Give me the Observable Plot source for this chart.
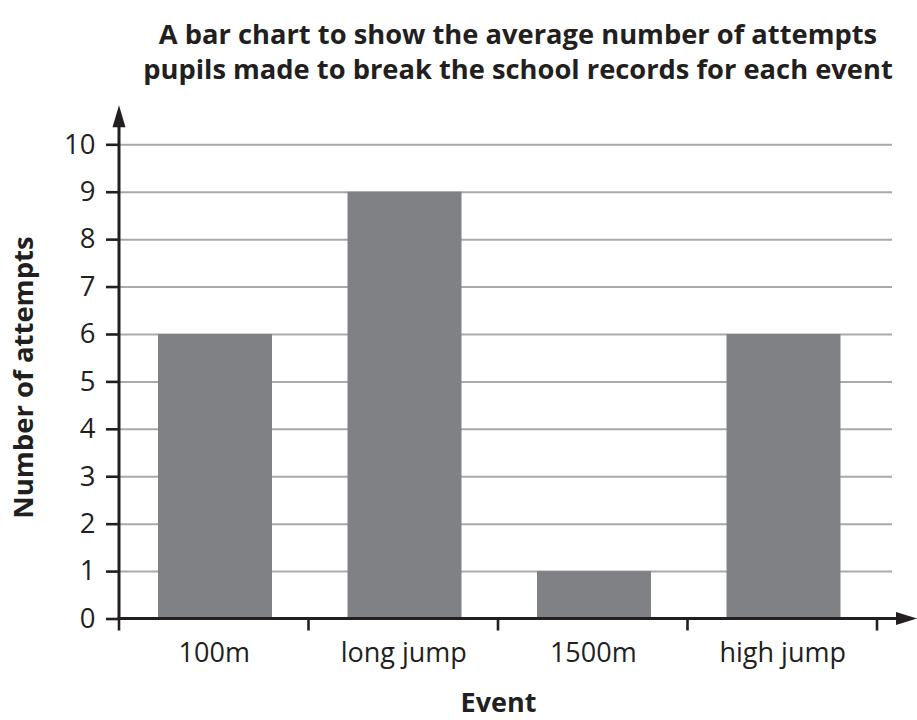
<!DOCTYPE html>
<html><head><meta charset="utf-8">
<script src="https://cdn.jsdelivr.net/npm/d3@7"></script>
<script src="https://cdn.jsdelivr.net/npm/@observablehq/plot@0.6"></script>
<style>
body{margin:0;background:#fff;}
#title{width:917px;height:100px;box-sizing:border-box;padding:16px 0 0 119px;text-align:center;font-family:"Open Sans",sans-serif;font-weight:700;font-size:27.3px;line-height:35px;color:#231f20;white-space:nowrap;}
#chart svg{display:block;}
</style></head><body>
<div id="title">A bar chart to show the average number of attempts<br>pupils made to break the school records for each event</div>
<div id="chart"></div>
<script>
const events = ["100m", "long jump", "1500m", "high jump"];
const attempts = [6, 9, 1, 6];
const yTicks = [0, 1, 2, 3, 4, 5, 6, 7, 8, 9, 10];
const gridTicks = yTicks.filter(d => d > 0);
const xLabel = "Event";
const yLabel = "Number of attempts";

const data = events.map((e, i) => ({event: e, attempts: attempts[i]}));
const ink = "#231f20";

function axesDecor(index, scales, values, dim) {
  const x = scales.x, y = scales.y;
  const bw = x.bandwidth ? x.bandwidth() : (877 - 119) / events.length;
  const x0 = dim.marginLeft;
  const y0 = y(0);
  const yTop = y(d3.max(yTicks));
  const xEnd = x(events[events.length - 1]) + bw;
  const g = d3.create("svg:g");
  const bounds = events.map(e => x(e)).concat([xEnd]);
  for (const b of bounds) {
    g.append("line").attr("x1", b).attr("x2", b).attr("y1", y0).attr("y2", y0 + 12)
      .attr("stroke", ink).attr("stroke-width", 2.6);
  }
  g.append("line").attr("x1", x0).attr("x2", x0).attr("y1", y0 + 1.5).attr("y2", yTop - 18)
    .attr("stroke", ink).attr("stroke-width", 3);
  g.append("path").attr("d", `M${x0},${yTop - 39}L${x0 - 6.5},${yTop - 17}L${x0 + 6.5},${yTop - 17}Z`).attr("fill", ink);
  g.append("line").attr("x1", x0 - 1.5).attr("x2", xEnd + 20).attr("y1", y0).attr("y2", y0)
    .attr("stroke", ink).attr("stroke-width", 3);
  g.append("path").attr("d", `M${xEnd + 40},${y0}L${xEnd + 19},${y0 - 6.5}L${xEnd + 19},${y0 + 6.5}Z`).attr("fill", ink);
  return g.node();
}

const chart = Plot.plot({
  width: 917,
  height: 620,
  marginTop: 44.3,
  marginBottom: 101.5,
  marginLeft: 119,
  marginRight: 25,
  style: {fontFamily: "'Open Sans', sans-serif", fontSize: "27px", color: ink, background: "#fff", overflow: "visible"},
  x: {domain: events, range: [119, 877], padding: 0, round: false},
  y: {domain: [0, 10]},
  marks: [
    Plot.gridY(gridTicks, {stroke: "#a7a9ac", strokeOpacity: 1, strokeWidth: 2}),
    Plot.barY(data, {x: "event", y: "attempts", fill: "#808184", insetLeft: 39, insetRight: 36.5}),
    Plot.axisY(yTicks, {tickSize: 13, tickPadding: 11, fontSize: 27.5, color: ink, strokeWidth: 2.6, label: null}),
    Plot.axisX({tickSize: 0, tickPadding: 24, fontSize: 27, color: ink, label: null}),
    axesDecor,
    Plot.text([yLabel], {text: d => d, frameAnchor: "left", textAnchor: "middle", lineAnchor: "middle", dx: -95, dy: -4.4, rotate: -90, fontWeight: "bold", fontSize: 27.5, fill: ink}),
    Plot.text([xLabel], {text: d => d, frameAnchor: "bottom", textAnchor: "middle", lineAnchor: "middle", dx: -7.5, dy: 84.5, fontWeight: "bold", fontSize: 27, fill: ink})
  ]
});
document.getElementById("chart").appendChild(chart);
</script>
</body></html>
